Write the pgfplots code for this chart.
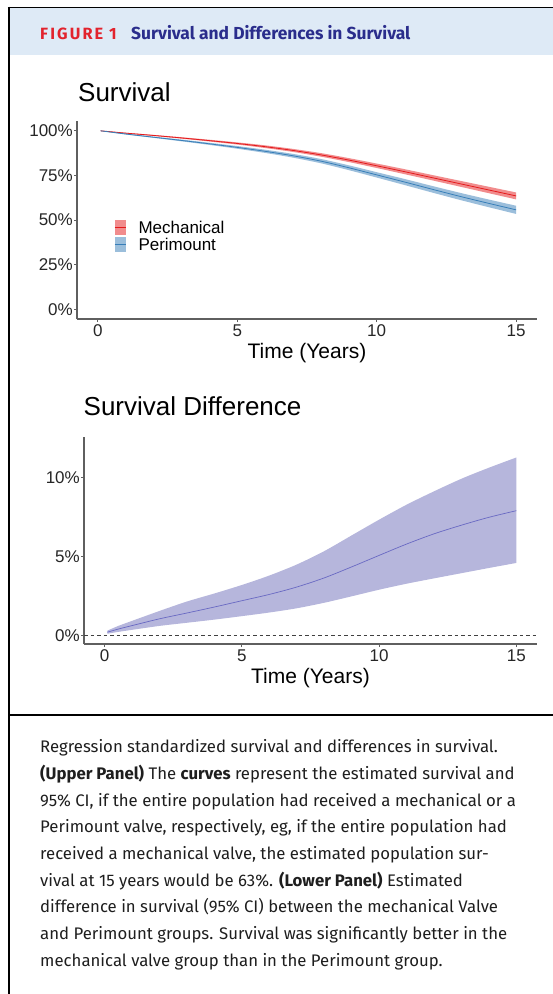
\documentclass[border=0pt]{standalone}
\usepackage{fontspec}
\setmainfont{Fira Sans}
\newfontfamily\plotfont{Liberation Sans}
\usepackage{pgfplots}
\usepackage{pgfplotstable}
\pgfplotsset{compat=1.18}
\usepgfplotslibrary{fillbetween}
\definecolor{mechline}{RGB}{228,26,28}
\definecolor{periline}{RGB}{55,126,184}
\definecolor{difffill}{RGB}{182,182,220}
\definecolor{diffline}{RGB}{105,105,195}
\definecolor{headbg}{RGB}{222,234,246}
\definecolor{figred}{RGB}{226,35,45}
\definecolor{navy}{RGB}{42,45,140}
\definecolor{axisgray}{RGB}{95,95,95}
\definecolor{captext}{RGB}{30,30,30}

\pgfplotstableread{
t mlo mmid mhi plo pmid phi
0.1 99.9 100.0 100.0 99.9 100.0 100.0
1 98.5 98.7 98.9 97.95 98.2 98.45
2 97.1 97.4 97.7 96.05 96.4 96.75
3 95.6 96.0 96.4 94.1 94.6 95.1
4 94.0 94.5 95.0 92.1 92.7 93.3
5 92.3 92.9 93.5 89.95 90.7 91.45
6 90.35 91.1 91.85 87.6 88.5 89.4
7 88.15 89.0 89.85 84.95 86.0 87.05
8 85.5 86.5 87.5 81.8 83.0 84.2
9 82.5 83.6 84.7 77.95 79.3 80.65
10 79.15 80.4 81.65 73.8 75.3 76.8
11 75.7 77.1 78.5 69.6 71.3 73.0
12 72.2 73.7 75.2 65.35 67.2 69.05
13 68.65 70.3 71.95 61.2 63.2 65.2
14 65.1 66.9 68.7 57.25 59.4 61.55
15 61.55 63.5 65.45 53.4 55.7 58.0
}\survtab

\pgfplotstableread{
t lo mid hi
0.1 0.10 0.20 0.30
0.5 0.22 0.40 0.60
1 0.35 0.62 0.92
2 0.60 1.05 1.55
3 0.80 1.42 2.15
4 1.00 1.80 2.66
5 1.22 2.20 3.20
6 1.45 2.60 3.80
7 1.72 3.07 4.50
8 2.07 3.65 5.35
9 2.48 4.35 6.35
10 2.90 5.08 7.35
11 3.28 5.80 8.30
12 3.62 6.45 9.15
13 3.95 7.00 9.95
14 4.28 7.50 10.65
15 4.60 7.92 11.30
}\difftab

\pgfplotsset{
  ggaxis/.style={
    scale only axis,
    xmin=-0.75, xmax=15.75,
    axis x line*=bottom, axis y line*=left,
    axis line style={axisgray, line width=1.1bp, -},
    xtick={0,5,10,15},
    tick align=outside, major tick length=3bp,
    tick style={axisgray, line width=0.9bp},
    /pgf/number format/assume math mode=true,
    ticklabel style={font=\plotfont\fontsize{17bp}{17bp}\selectfont, text=black!85},
    xticklabel style={anchor=base, inner sep=0pt, yshift=-14bp},
    yticklabel style={anchor=east, inner sep=0pt, xshift=-1bp},
    yticklabel={\pgfmathprintnumber{\tick}\%},
    xlabel={Time (Years)},
    xlabel style={font=\plotfont\fontsize{21bp}{21bp}\selectfont, at={(axis description cs:0.5,0)}, anchor=base, yshift=-39bp, inner sep=0pt},
  },
}

\begin{document}
\begin{tikzpicture}
% header and frame
\fill[headbg] (9.6bp,-8.4bp) rectangle (553bp,-55bp);
\draw[black, line width=1.8bp] (7.9bp,-7.5bp) -- (553bp,-7.5bp);
\draw[black, line width=1.8bp] (8.8bp,-6.6bp) -- (8.8bp,-994bp);
\draw[black, line width=1.8bp] (8.8bp,-715bp) -- (553bp,-715bp);
\node[anchor=base west, inner sep=0pt, text=figred, font=\bfseries\fontsize{16.3bp}{16.3bp}\selectfont\addfontfeatures{LetterSpace=13}] at (40bp,-39.3bp) {FIGURE 1};
\node[anchor=base west, inner sep=0pt, text=navy, font=\bfseries\fontsize{17.4bp}{17.4bp}\selectfont] at (131bp,-39.3bp) {Survival and Differences in Survival};

% titles
\node[anchor=base west, inner sep=0pt, font=\plotfont\fontsize{26bp}{26bp}\selectfont] at (78bp,-101.5bp) {Survival};
\node[anchor=base west, inner sep=0pt, font=\plotfont\fontsize{26bp}{26bp}\selectfont] at (83.5bp,-415bp) {Survival Difference};

% upper panel
\begin{axis}[ggaxis,
  width=460bp, height=198bp, at={(77bp,-319bp)}, anchor=south west,
  ymin=-5.5, ymax=105.5, ytick={0,25,50,75,100},
]
\addplot[name path=mhi, draw=none, smooth] table[x=t, y=mhi] {\survtab};
\addplot[name path=mlo, draw=none, smooth] table[x=t, y=mlo] {\survtab};
\addplot[fill=mechline, fill opacity=0.5, draw=none] fill between[of=mhi and mlo];
\addplot[name path=phi, draw=none, smooth] table[x=t, y=phi] {\survtab};
\addplot[name path=plo, draw=none, smooth] table[x=t, y=plo] {\survtab};
\addplot[fill=periline, fill opacity=0.5, draw=none] fill between[of=phi and plo];
\addplot[mechline, line width=0.8bp, smooth] table[x=t, y=mmid] {\survtab};
\addplot[periline, line width=0.8bp, smooth] table[x=t, y=pmid] {\survtab};
\end{axis}

% legend of the upper panel
\fill[mechline, fill opacity=0.5] (114.6bp,-220bp) rectangle (125.9bp,-235bp);
\draw[mechline, line width=0.8bp] (114.6bp,-227.5bp) -- (125.9bp,-227.5bp);
\fill[periline, fill opacity=0.5] (114.6bp,-236.7bp) rectangle (125.9bp,-251.7bp);
\draw[periline, line width=0.8bp] (114.6bp,-244.2bp) -- (125.9bp,-244.2bp);
\node[anchor=base west, inner sep=0pt, font=\plotfont\fontsize{17bp}{17bp}\selectfont] at (138.3bp,-233.5bp) {Mechanical};
\node[anchor=base west, inner sep=0pt, font=\plotfont\fontsize{17bp}{17bp}\selectfont] at (138.3bp,-250bp) {Perimount};

% lower panel
\begin{axis}[ggaxis,
  width=453bp, height=207bp, at={(84bp,-644bp)}, anchor=south west,
  ymin=-0.55, ymax=12.6, ytick={0,5,10},
]
\addplot[name path=dhi, draw=none, smooth] table[x=t, y=hi] {\difftab};
\addplot[name path=dlo, draw=none, smooth] table[x=t, y=lo] {\difftab};
\addplot[fill=difffill, draw=none] fill between[of=dhi and dlo];
\addplot[diffline, line width=0.7bp, smooth] table[x=t, y=mid] {\difftab};
\addplot[black!75, line width=0.9bp, dash pattern=on 3.5bp off 3bp] coordinates {(-0.75,0) (15.75,0)};
\end{axis}

% caption
\begin{scope}[every node/.style={anchor=base west, inner sep=0pt, text=captext, font=\fontsize{16.75bp}{16.75bp}\selectfont}]
\node at (40bp,-752.7bp) {Regression standardized survival and differences in survival.};
\node at (40bp,-779.4bp) {\textbf{(Upper Panel)} The \textbf{curves} represent the estimated survival and};
\node at (40bp,-806bp) {95\% CI, if the entire population had received a mechanical or a};
\node at (40bp,-832.7bp) {Perimount valve, respectively, eg, if the entire population had};
\node at (40bp,-859.4bp) {received a mechanical valve, the estimated population sur-};
\node at (40bp,-886bp) {vival at 15 years would be 63\%. \textbf{(Lower Panel)} Estimated};
\node at (40bp,-912.7bp) {difference in survival (95\% CI) between the mechanical Valve};
\node at (40bp,-939.4bp) {and Perimount groups. Survival was significantly better in the};
\node at (40bp,-966bp) {mechanical valve group than in the Perimount group.};
\end{scope}
\pgfresetboundingbox
\useasboundingbox (0bp,0bp) rectangle (553bp,-994bp);
\end{tikzpicture}
\end{document}
